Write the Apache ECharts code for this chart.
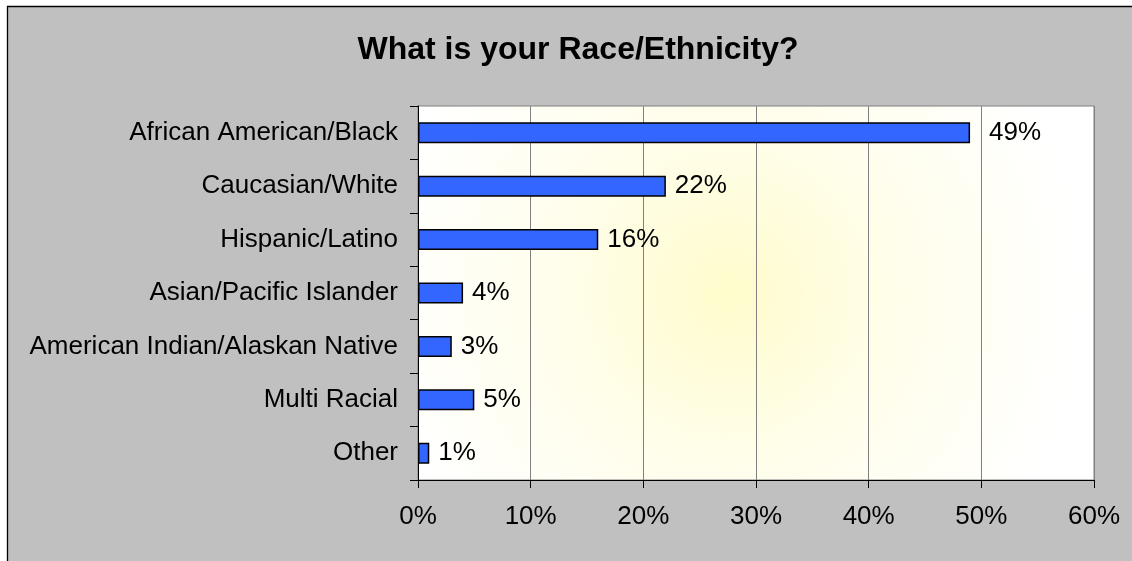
<!DOCTYPE html>
<html>
<head>
<meta charset="utf-8">
<script src="https://cdn.jsdelivr.net/npm/echarts@6/dist/echarts.min.js"></script>
<style>
html,body{margin:0;padding:0;background:#fff;overflow:hidden;}
#c{width:1132px;height:561px;}
</style>
</head>
<body>
<div id="c"></div>
<script>
const titleText = 'What is your Race/Ethnicity?';
const categories = ['African American/Black','Caucasian/White','Hispanic/Latino','Asian/Pacific Islander','American Indian/Alaskan Native','Multi Racial','Other'];
const values = [49, 22, 16, 4, 3, 5, 1];
const xTicks = [0, 10, 20, 30, 40, 50, 60];

const chart = echarts.init(document.getElementById('c'), null, {renderer:'canvas'});
const font = '"Liberation Sans", Arial, sans-serif';
chart.setOption({
  animation: false,
  backgroundColor: 'transparent',
  graphic: [{
    type: 'rect', z: -10, silent: true,
    shape: {x: 7, y: 6, width: 1200, height: 600},
    style: {fill: '#C0C0C0'}
  }, {
    type: 'polyline', z: -9, silent: true,
    shape: {points: [[7.5, 600], [7.5, 6.5], [1200, 6.5]]},
    style: {stroke: '#000', lineWidth: 1.3, fill: null}
  }],
  title: {
    text: titleText, left: 573, top: 29, textAlign: 'center',
    textStyle: {fontFamily: font, fontSize: 32, fontWeight: 'bold', color: '#000'}
  },
  grid: {
    left: 418, right: 38, top: 106, bottom: 81, containLabel: false,
    show: true, borderColor: '#808080', borderWidth: 1,
    backgroundColor: {
      type: 'radial', x: 0.46, y: 0.5, r: 0.95,
      colorStops: [{offset: 0, color: '#FFFCCC'}, {offset: 0.5, color: '#FFFEEC'}, {offset: 1, color: '#FFFFFF'}]
    }
  },
  xAxis: {
    type: 'value', min: xTicks[0], max: xTicks[xTicks.length-1], interval: 10,
    axisLine: {show: true, lineStyle: {color: '#000', width: 1}},
    axisTick: {show: true, length: 8, lineStyle: {color: '#000'}},
    splitLine: {show: true, lineStyle: {color: '#808080', width: 1}},
    axisLabel: {formatter: '{value}%', margin: 24, fontFamily: font, fontSize: 26, color: '#000'}
  },
  yAxis: {
    type: 'category', data: categories, inverse: true,
    axisLine: {show: true, lineStyle: {color: '#000', width: 1}},
    axisTick: {show: true, length: 8, lineStyle: {color: '#000'}},
    splitLine: {show: false},
    axisLabel: {margin: 20, fontFamily: font, fontSize: 26, color: '#000'}
  },
  series: [{
    type: 'bar',
    data: values.map((v, i) => i === 0 ? {value: v, label: {distance: 19}} : v),
    barWidth: 21,
    itemStyle: {color: '#3366FF', borderColor: '#000', borderWidth: 1.5},
    label: {show: true, position: 'right', distance: 9, formatter: '{c}%', fontFamily: font, fontSize: 26, color: '#000'}
  }]
});
</script>
</body>
</html>
